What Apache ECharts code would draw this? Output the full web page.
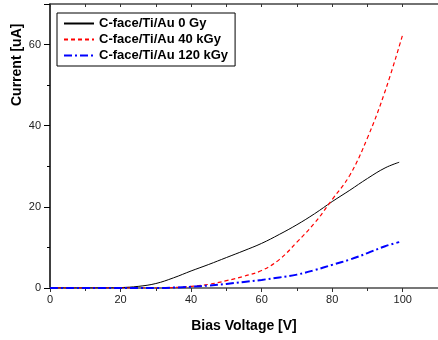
<!DOCTYPE html>
<html>
<head>
<meta charset="utf-8">
<script src="https://cdn.jsdelivr.net/npm/echarts@6/dist/echarts.min.js"></script>
<style>
  html, body { margin: 0; padding: 0; background: #fff; }
  #chart { width: 438px; height: 340px; }
</style>
</head>
<body>
<div id="chart"></div>
<script>
// bias voltage (V)
const voltage = [0, 5, 10, 15, 20, 25, 30, 35, 40, 45, 50, 55, 60, 65, 70, 75, 80, 85, 90, 95, 99];
const voltageRed = [0, 5, 10, 15, 20, 25, 30, 35, 40, 45, 50, 55, 60, 65, 70, 75, 80, 85, 90, 95, 100];

// current (uA)
const current0Gy = [0, 0, 0, 0, 0.1, 0.4, 1.1, 2.5, 4.2, 5.8, 7.5, 9.2, 11.0, 13.2, 15.6, 18.3, 21.3, 24.1, 27.0, 29.6, 31.0];
const current40kGy = [0, 0, 0, 0, 0, 0, 0, 0.1, 0.4, 0.9, 1.8, 2.9, 4.3, 7.0, 11.3, 16.0, 21.8, 27.8, 37.0, 48.5, 62.5];
const current120kGy = [0, 0, 0, 0, 0, 0, 0, 0.1, 0.3, 0.6, 1.0, 1.5, 2.0, 2.6, 3.3, 4.4, 5.7, 7.0, 8.6, 10.3, 11.3];

const seriesNames = ['C-face/Ti/Au 0 Gy', 'C-face/Ti/Au 40 kGy', 'C-face/Ti/Au 120 kGy'];

function pairs(xs, ys) {
  return xs.map((x, i) => [x, ys[i]]);
}

const chart = echarts.init(document.getElementById('chart'));

chart.setOption({
  animation: false,
  textStyle: { fontFamily: 'Liberation Sans, Arial, sans-serif' },
  grid: { left: 50, top: 4, right: -3, bottom: 52 },
  legend: {
    orient: 'vertical',
    left: 57,
    top: 13,
    padding: [4, 7, 4, 6],
    itemWidth: 30,
    itemHeight: 11,
    itemGap: 3,
    borderColor: '#000',
    borderWidth: 1,
    itemStyle: { opacity: 0 },
    textStyle: { fontWeight: 'bold', fontSize: 13, color: '#000', fontFamily: 'Liberation Sans, Arial, sans-serif' },
    data: seriesNames
  },
  graphic: [{
    type: 'text',
    x: 10,
    y: 106,
    rotation: Math.PI / 2,
    style: {
      text: 'Current [uA]',
      fontSize: 14,
      fontWeight: 'bold',
      fill: '#000',
      fontFamily: 'Liberation Sans, Arial, sans-serif'
    }
  }],
  xAxis: [{
    type: 'value',
    min: 0,
    max: 110,
    interval: 20,
    name: 'Bias Voltage [V]',
    nameLocation: 'middle',
    nameGap: 31,
    nameTextStyle: { fontSize: 14, fontWeight: 'bold', color: '#000' },
    axisLine: { lineStyle: { color: '#777', width: 2 } },
    axisTick: { length: 4, lineStyle: { color: '#333' } },
    minorTick: { show: true, splitNumber: 2, length: 3, lineStyle: { color: '#333' } },
    axisLabel: { color: '#222', fontSize: 11, margin: 6, showMaxLabel: false },
    splitLine: { show: false }
  }, {
    type: 'value',
    position: 'top',
    min: 0,
    max: 110,
    interval: 10,
    axisLine: { show: true, lineStyle: { color: '#444', width: 1.5 } },
    axisTick: { inside: true, length: 3, lineStyle: { color: '#333' } },
    axisLabel: { show: false },
    splitLine: { show: false }
  }],
  yAxis: {
    type: 'value',
    min: 0,
    max: 70,
    interval: 20,
    axisLine: { show: true, lineStyle: { color: '#000', width: 1.5 } },
    axisTick: { length: 6, lineStyle: { color: '#000' } },
    minorTick: { show: true, splitNumber: 2, length: 3, lineStyle: { color: '#000' } },
    axisLabel: { color: '#222', fontSize: 11, margin: 9, showMaxLabel: false },
    splitLine: { show: false }
  },
  series: [
    {
      name: seriesNames[0],
      type: 'line',
      smooth: 0.4,
      symbol: 'none',
      data: pairs(voltage, current0Gy),
      lineStyle: { color: '#000', width: 1 },
      itemStyle: { color: '#000' },
      z: 3
    },
    {
      name: seriesNames[1],
      type: 'line',
      smooth: 0.4,
      symbol: 'none',
      data: pairs(voltageRed, current40kGy),
      lineStyle: { color: '#ff0000', width: 1.2, type: [4, 3] },
      itemStyle: { color: '#ff0000' },
      z: 4
    },
    {
      name: seriesNames[2],
      type: 'line',
      smooth: 0.4,
      symbol: 'none',
      data: pairs(voltage, current120kGy),
      lineStyle: { color: '#0000ff', width: 2, type: [8, 3, 2, 3] },
      itemStyle: { color: '#0000ff' },
      z: 5
    }
  ]
});
</script>
</body>
</html>
